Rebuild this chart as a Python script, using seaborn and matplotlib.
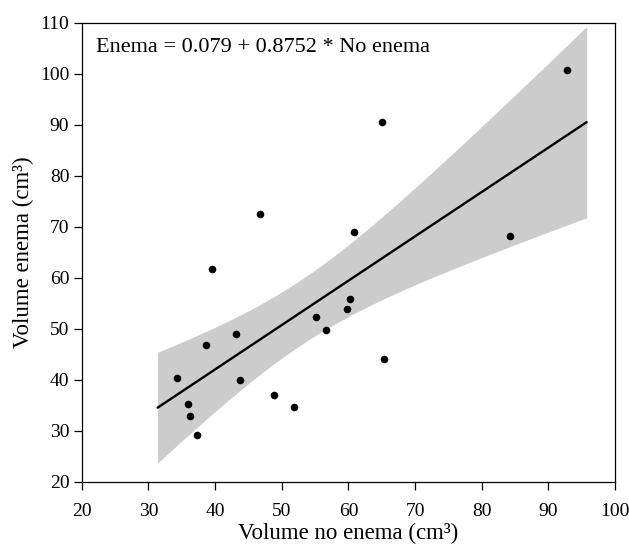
import matplotlib
matplotlib.use('Agg')
import numpy as np
import pandas as pd
import matplotlib.pyplot as plt
import seaborn as sns

# volumes (cm3)
no_enema = [39.5, 38.6, 43.2, 34.3, 43.7, 35.9, 36.2, 37.3, 48.8, 51.8,
            55.1, 56.6, 60.3, 59.8, 60.8, 84.3, 65.3, 46.7, 65.1, 92.8]
enema = [61.8, 46.8, 49.1, 40.3, 39.9, 35.2, 32.9, 29.3, 37.1, 34.8,
         52.4, 49.75, 55.9, 53.9, 69.0, 68.2, 44.05, 72.5, 90.5, 100.8]

x_ticks = list(range(20, 101, 10))
y_ticks = list(range(20, 111, 10))
equation = 'Enema = 0.079 + 0.8752 * No enema'
t_975 = 2.101  # t quantile, 18 degrees of freedom

sns.set_style('ticks')
plt.rcParams['font.family'] = ['Liberation Serif', 'DejaVu Serif']
plt.rcParams['axes.edgecolor'] = 'black'
plt.rcParams['axes.linewidth'] = 0.9

df = pd.DataFrame({'no_enema': no_enema, 'enema': enema})

fig, ax = plt.subplots(figsize=(6.29, 5.45), dpi=100)
fig.subplots_adjust(left=0.130, right=0.978, top=0.958, bottom=0.1156)

# points + fitted line, the line spans the autoscaled x range
sns.regplot(data=df, x='no_enema', y='enema', ax=ax, truncate=False, ci=None,
            scatter_kws=dict(color='black', s=30, linewidths=0, alpha=1, zorder=3),
            line_kws=dict(color='black', lw=1.7, zorder=2))

# analytic 95% confidence band of the mean
x = df['no_enema'].to_numpy()
y = df['enema'].to_numpy()
slope, intercept = np.polyfit(x, y, 1)
resid = y - (intercept + slope * x)
s = np.sqrt(np.sum(resid ** 2) / (len(x) - 2))
sxx = np.sum((x - x.mean()) ** 2)
grid = np.linspace(*ax.get_xlim(), 200)
fit = intercept + slope * grid
half = t_975 * s * np.sqrt(1 / len(x) + (grid - x.mean()) ** 2 / sxx)
ax.fill_between(grid, fit - half, fit + half, color='#cccccc', lw=0, zorder=1)

ax.set_xlim(20, 100)
ax.set_ylim(20, 110)
ax.set_xticks(x_ticks)
ax.set_yticks(y_ticks)
ax.tick_params(direction='out', length=6, width=0.9, colors='black',
               labelsize=14, pad=3, top=False, right=False)
ax.tick_params(axis='x', pad=9)

ax.set_xlabel('Volume no enema (cm³)', fontsize=16.5, color='black', labelpad=2)
ax.set_ylabel('Volume enema (cm³)', fontsize=16.5, color='black', labelpad=4)

ax.text(0.026, 0.947, equation, transform=ax.transAxes, fontsize=16,
        va='center', ha='left', color='black')

plt.savefig('out.png', dpi=100)
